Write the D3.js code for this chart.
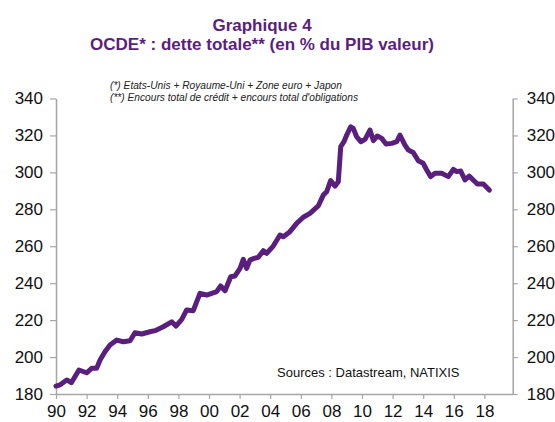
<!DOCTYPE html>
<html>
<head>
<meta charset="utf-8">
<script src="https://cdn.jsdelivr.net/npm/d3@7"></script>
<style>
  body { margin: 0; background: #fff; }
  text { font-family: "Liberation Sans", Arial, sans-serif; }
</style>
</head>
<body>
<svg id="chart" width="555" height="422"></svg>
<script>
// decimal year of each reading, and total debt (% of GDP)
const years = [
  1990.0, 1990.25, 1990.7, 1991.0, 1991.5, 1992.0, 1992.33, 1992.66, 1992.88,
  1993.2, 1993.53, 1993.97, 1994.4, 1994.84, 1995.16, 1995.6, 1996.14, 1996.47,
  1997.01, 1997.56, 1997.84, 1998.22, 1998.54, 1998.97, 1999.41, 1999.85,
  2000.5, 2000.76, 2001.05, 2001.42, 2001.7, 2002.03, 2002.24, 2002.46, 2002.68,
  2002.9, 2003.22, 2003.55, 2003.77, 2004.2, 2004.64, 2004.86, 2005.29, 2005.73,
  2006.16, 2006.6, 2007.14, 2007.47, 2007.69, 2007.95, 2008.24, 2008.45, 2008.61,
  2008.82, 2009.0, 2009.26, 2009.43, 2009.65, 2009.92, 2010.2, 2010.52, 2010.74,
  2011.0, 2011.29, 2011.57, 2011.94, 2012.27, 2012.48, 2012.81, 2013.03, 2013.35,
  2013.68, 2014.0, 2014.23, 2014.49, 2014.77, 2015.21, 2015.64, 2015.97, 2016.19,
  2016.45, 2016.73, 2017.01, 2017.27, 2017.54, 2017.93, 2018.32
];
const debt = [
  184.3, 184.9, 187.6, 186.1, 193.0, 191.5, 193.9, 194.0, 198.4,
  202.9, 206.5, 209.2, 208.3, 208.8, 213.2, 212.5, 213.7, 214.3,
  216.4, 219.1, 216.8, 220.4, 225.5, 225.1, 234.5, 233.6,
  235.4, 238.5, 235.9, 243.5, 243.9, 248.0, 252.9, 248.0, 252.5,
  253.3, 254.0, 257.6, 256.2, 260.1, 266.1, 265.2, 267.9, 272.4,
  275.7, 277.8, 281.8, 287.7, 289.5, 295.5, 292.6, 294.9, 313.9,
  316.6, 320.2, 324.7, 323.8, 319.3, 316.6, 317.9, 322.9, 317.2,
  319.7, 318.4, 315.4, 315.7, 316.6, 320.2, 314.8, 312.1, 310.8,
  306.3, 304.9, 301.3, 297.7, 299.5, 299.5, 297.7, 301.6, 300.4,
  300.7, 295.9, 298.0, 295.9, 293.7, 293.7, 290.4
];
const xTicks = [1990, 1992, 1994, 1996, 1998, 2000, 2002, 2004, 2006, 2008,
                2010, 2012, 2014, 2016, 2018];
const yTicks = [180, 200, 220, 240, 260, 280, 300, 320, 340];

const purple = "#5a1f7e";
const axisGrey = "#a6a6a6";

const svg = d3.select("#chart");

const x = d3.scaleLinear().domain([1990, 2019.85]).range([56, 512.7]);
const y = d3.scaleLinear().domain([180, 340]).range([394, 98.5]);

// titles
svg.append("text")
  .attr("x", 262).attr("y", 31)
  .attr("text-anchor", "middle")
  .attr("font-size", 17).attr("font-weight", "bold")
  .attr("fill", purple)
  .text("Graphique 4");
svg.append("text")
  .attr("x", 262).attr("y", 50)
  .attr("text-anchor", "middle")
  .attr("font-size", 17).attr("font-weight", "bold")
  .attr("fill", purple)
  .text("OCDE*  : dette totale** (en % du PIB valeur)");

// notes
svg.append("text")
  .attr("x", 110).attr("y", 89)
  .attr("font-size", 10.2).attr("font-style", "italic").attr("fill", "#222")
  .text("(*) Etats-Unis + Royaume-Uni + Zone euro + Japon");
svg.append("text")
  .attr("x", 110).attr("y", 101)
  .attr("font-size", 10.2).attr("font-style", "italic").attr("fill", "#222")
  .text("(**) Encours total de crédit + encours total d'obligations");

// axes
const left = svg.append("g")
  .attr("transform", "translate(56,0)")
  .call(d3.axisLeft(y).tickValues(yTicks).tickSize(6).tickPadding(7).tickSizeOuter(0));
const right = svg.append("g")
  .attr("transform", "translate(512.7,0)")
  .call(d3.axisRight(y).tickValues(yTicks).tickSize(5).tickPadding(9).tickSizeOuter(0));
const bottom = svg.append("g")
  .attr("transform", "translate(0,394)")
  .call(d3.axisBottom(x).tickValues(xTicks).tickSize(5).tickPadding(6).tickSizeOuter(0)
    .tickFormat(d => String(d % 100).padStart(2, "0")));

[left, right, bottom].forEach(g => {
  g.select(".domain").attr("stroke", axisGrey).attr("stroke-width", 1.5);
  g.selectAll(".tick line").attr("stroke", axisGrey).attr("stroke-width", 1.2);
  g.selectAll(".tick text")
    .attr("font-family", "'Liberation Sans', Arial, sans-serif")
    .attr("font-size", 17).attr("fill", "#111");
});

// line
const points = years.map((yr, i) => [yr, debt[i]]);
svg.append("path")
  .datum(points)
  .attr("fill", "none")
  .attr("stroke", purple)
  .attr("stroke-width", 5)
  .attr("stroke-linejoin", "round")
  .attr("stroke-linecap", "round")
  .attr("d", d3.line().x(d => x(d[0])).y(d => y(d[1])));

// source
svg.append("text")
  .attr("x", 277).attr("y", 377)
  .attr("font-size", 13).attr("fill", "#111")
  .text("Sources  : Datastream,  NATIXIS");
</script>
</body>
</html>
